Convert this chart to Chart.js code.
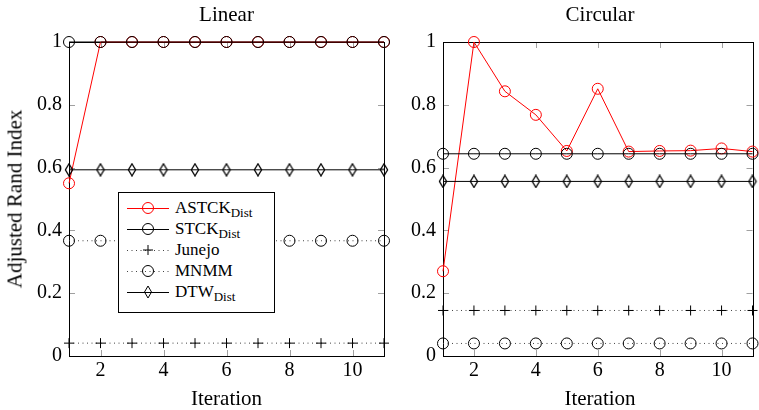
<!DOCTYPE html>
<html>
<head>
<meta charset="utf-8">
<script src="https://cdn.jsdelivr.net/npm/chart.js@4/dist/chart.umd.min.js"></script>
<style>
  body { margin: 0; background: #fff; }
  #wrap { position: relative; width: 759px; height: 410px; overflow: hidden; font-family: "Liberation Serif", serif; color: #000; }
  canvas { position: absolute; top: 0; }
  .lbl { position: absolute; font-size: 21px; line-height: 21px; white-space: nowrap; transform: translate(-50%, -50%); }
  .ylab { transform: translate(-50%, -50%) rotate(-90deg); }
  #legend { position: absolute; left: 118px; top: 192px; width: 155px; height: 114px; border: 1px solid #000; background: #fff; padding-top: 5px; box-sizing: content-box; }
  #legend .row { height: 21px; position: relative; }
  #legend svg { position: absolute; left: 8px; top: 3px; }
  #legend span { position: absolute; left: 56px; top: 0px; font-size: 17px; line-height: 19px; }
  #legend sub { font-size: 13px; vertical-align: -4px; line-height: 0; }
</style>
</head>
<body>
<div id="wrap">
  <canvas id="linChart" width="395" height="410" style="left:0"></canvas>
  <canvas id="cirChart" width="364" height="410" style="left:395px"></canvas>

  <div class="lbl" style="left:226.5px; top:14px">Linear</div>
  <div class="lbl" style="left:600px; top:14px">Circular</div>
  <div class="lbl" style="left:226.5px; top:398px">Iteration</div>
  <div class="lbl" style="left:600px; top:398px">Iteration</div>
  <div class="lbl ylab" style="left:15px; top:199px">Adjusted Rand Index</div>

  <div id="legend"></div>
</div>

<script>
// iterations on the x axis
const iterations = [1, 2, 3, 4, 5, 6, 7, 8, 9, 10, 11];
const xTicks = [2, 4, 6, 8, 10];
const yTicks = [0, 0.2, 0.4, 0.6, 0.8, 1];

// Linear
const linAstck  = [0.55, 1, 1, 1, 1, 1, 1, 1, 1, 1, 1];
const linStck   = [1, 1, 1, 1, 1, 1, 1, 1, 1, 1, 1];
const linJunejo = [0.041, 0.041, 0.041, 0.041, 0.041, 0.041, 0.041, 0.041, 0.041, 0.041, 0.041];
const linMnmm   = [0.367, 0.367, 0.367, 0.367, 0.367, 0.367, 0.367, 0.367, 0.367, 0.367, 0.367];
const linDtw    = [0.593, 0.593, 0.593, 0.593, 0.593, 0.593, 0.593, 0.593, 0.593, 0.593, 0.593];

// Circular
const cirAstck  = [0.27, 1, 0.843, 0.768, 0.653, 0.851, 0.651, 0.653, 0.654, 0.661, 0.651];
const cirStck   = [0.644, 0.644, 0.644, 0.644, 0.644, 0.644, 0.644, 0.644, 0.644, 0.644, 0.644];
const cirJunejo = [0.145, 0.145, 0.145, 0.145, 0.145, 0.145, 0.145, 0.145, 0.145, 0.145, 0.145];
const cirMnmm   = [0.04, 0.04, 0.04, 0.04, 0.04, 0.04, 0.04, 0.04, 0.04, 0.04, 0.04];
const cirDtw    = [0.556, 0.556, 0.556, 0.556, 0.556, 0.556, 0.556, 0.556, 0.556, 0.556, 0.556];

// diamond marker (taller than wide), drawn as a custom point style
const diamond = document.createElement('canvas');
diamond.width = 10; diamond.height = 14;
(function () {
  const c = diamond.getContext('2d');
  c.strokeStyle = '#000'; c.lineWidth = 1.3;
  c.beginPath();
  c.moveTo(5, 1); c.lineTo(8.6, 7); c.lineTo(5, 13); c.lineTo(1.4, 7); c.closePath();
  c.stroke();
})();

function pts(vals) {
  return iterations.map((it, i) => ({ x: it, y: vals[i] }));
}

// inside tick marks + box around the plot
const frame = {
  id: 'frame',
  beforeDatasetsDraw(chart) {
    const { ctx, chartArea: a, scales: { x, y } } = chart;
    ctx.save();
    ctx.strokeStyle = '#a0a0a0';
    ctx.lineWidth = 1;
    ctx.beginPath();
    xTicks.forEach(v => {
      const px = Math.round(x.getPixelForValue(v)) + 0.5;
      ctx.moveTo(px, a.bottom); ctx.lineTo(px, a.bottom - 6);
      ctx.moveTo(px, a.top); ctx.lineTo(px, a.top + 6);
    });
    yTicks.forEach(v => {
      const py = Math.round(y.getPixelForValue(v)) + 0.5;
      ctx.moveTo(a.left, py); ctx.lineTo(a.left + 6, py);
      ctx.moveTo(a.right, py); ctx.lineTo(a.right - 6, py);
    });
    ctx.stroke();
    ctx.strokeStyle = '#000';
    ctx.strokeRect(Math.round(a.left) + 0.5, Math.round(a.top) + 0.5,
                   Math.round(a.right - a.left), Math.round(a.bottom - a.top));
    ctx.restore();
  }
};

function makeChart(id, d, yWidth, rightPad) {
  const common = { borderWidth: 1, pointBorderWidth: 1, pointBackgroundColor: 'rgba(0,0,0,0)', tension: 0, clip: false };
  return new Chart(document.getElementById(id), {
    type: 'line',
    data: {
      datasets: [
        { ...common, label: 'STCK', data: pts(d.stck), borderColor: '#000', pointBorderColor: '#000', pointStyle: 'circle', pointRadius: 5.5, order: 1 },
        { ...common, label: 'DTW', data: pts(d.dtw), borderColor: '#000', pointBorderColor: '#000', pointStyle: diamond, pointRadius: 5, order: 2 },
        { ...common, label: 'Junejo', data: pts(d.junejo), borderColor: '#444', borderDash: [1, 3.5], pointBorderColor: '#000', pointStyle: 'cross', pointRadius: 5, order: 3 },
        { ...common, label: 'MNMM', data: pts(d.mnmm), borderColor: '#444', borderDash: [1, 3.5], pointBorderColor: '#000', pointStyle: 'circle', pointRadius: 5.5, order: 4 },
        { ...common, label: 'ASTCK', data: pts(d.astck), borderColor: '#ff0000', pointBorderColor: '#ff0000', pointStyle: 'circle', pointRadius: 5.5, order: 5 }
      ]
    },
    options: {
      responsive: false,
      animation: false,
      events: [],
      layout: { padding: { left: 0, right: rightPad, top: 42, bottom: 0 } },
      plugins: { legend: { display: false }, tooltip: { enabled: false } },
      scales: {
        x: {
          type: 'linear', min: 1, max: 11,
          afterBuildTicks: s => { s.ticks = xTicks.map(v => ({ value: v })); },
          afterFit: s => { s.height = 54; },
          grid: { display: false, drawTicks: false },
          border: { display: false },
          ticks: { padding: 3, color: '#000', font: { family: "'Liberation Serif', serif", size: 20 }, maxRotation: 0 }
        },
        y: {
          type: 'linear', min: 0, max: 1,
          afterBuildTicks: s => { s.ticks = yTicks.map(v => ({ value: v })); },
          afterFit: s => { s.width = yWidth; },
          grid: { display: false, drawTicks: false },
          border: { display: false },
          ticks: { padding: 7, color: '#000', font: { family: "'Liberation Serif', serif", size: 20 },
                   callback: v => String(Math.round(v * 10) / 10) }
        }
      }
    },
    plugins: [frame]
  });
}

makeChart('linChart', { astck: linAstck, stck: linStck, junejo: linJunejo, mnmm: linMnmm, dtw: linDtw }, 69, 11);
makeChart('cirChart', { astck: cirAstck, stck: cirStck, junejo: cirJunejo, mnmm: cirMnmm, dtw: cirDtw }, 48, 2);

// legend
const legendItems = [
  { name: 'ASTCK', sub: 'Dist', color: '#ff0000', dash: '', mark: 'circle' },
  { name: 'STCK', sub: 'Dist', color: '#000', dash: '', mark: 'circle' },
  { name: 'Junejo', sub: '', color: '#444', dash: '1 3.5', mark: 'cross' },
  { name: 'MNMM', sub: '', color: '#444', dash: '1 3.5', mark: 'circle' },
  { name: 'DTW', sub: 'Dist', color: '#000', dash: '', mark: 'diamond' }
];
const legendEl = document.getElementById('legend');
legendItems.forEach(it => {
  const mc = it.color === '#444' ? '#000' : it.color;
  let mark = '';
  if (it.mark === 'circle') mark = `<circle cx="21" cy="7" r="5.5" fill="none" stroke="${mc}" stroke-width="1"/>`;
  if (it.mark === 'cross') mark = `<path d="M16 7H26M21 2V12" stroke="${mc}" stroke-width="1"/>`;
  if (it.mark === 'diamond') mark = `<path d="M21 1L24.5 7L21 13L17.5 7Z" fill="none" stroke="${mc}" stroke-width="1"/>`;
  const row = document.createElement('div');
  row.className = 'row';
  row.innerHTML = `<svg width="42" height="14"><line x1="0" y1="7.5" x2="42" y2="7.5" stroke="${it.color}" stroke-width="1" ${it.dash ? `stroke-dasharray="${it.dash}"` : ''}/>${mark}</svg>` +
    `<span>${it.name}${it.sub ? `<sub>${it.sub}</sub>` : ''}</span>`;
  legendEl.appendChild(row);
});
</script>
</body>
</html>
